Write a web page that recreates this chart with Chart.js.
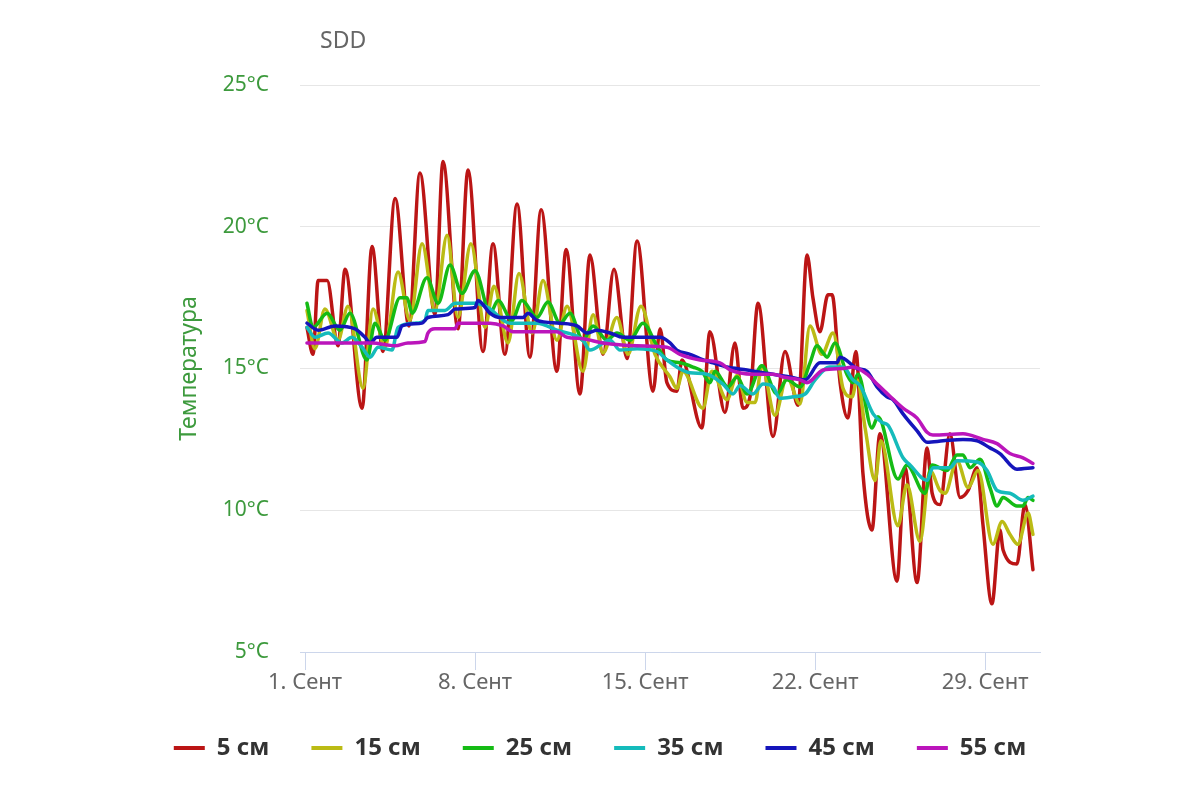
<!DOCTYPE html>
<html><head><meta charset="utf-8">
<script src="https://cdn.jsdelivr.net/npm/chart.js@4"></script>
<style>html,body{margin:0;padding:0;background:#fff}</style>
</head><body>
<canvas id="c" width="1200" height="800"></canvas>
<script>
// time in days since 1 Sep 00:00, temperature in °C
const seriesNames = ['5 см','15 см','25 см','35 см','45 см','55 см'];
const tickDays = [0, 7, 14, 21, 28];
const tickLabels = ['1. Сент','8. Сент','15. Сент','22. Сент','29. Сент'];
const yTicks = [5, 10, 15, 20, 25];

const t5 = [0.08,0.33,0.54,0.91,1.36,1.65,2.35,2.76,3.21,3.71,4.28,4.73,5.35,5.68,6.30,6.71,7.33,7.74,8.23,8.73,9.26,9.72,10.37,10.75,11.32,11.73,12.27,12.72,13.26,13.67,14.33,14.62,14.90,15.31,15.52,16.34,16.67,17.29,17.70,18.03,18.32,18.65,19.27,19.76,20.30,20.67,20.91,21.20,21.53,21.70,22.03,22.35,22.68,22.97,23.34,23.67,24.37,24.70,25.20,25.61,25.82,26.14,26.55,26.97,27.30,27.67,27.91,28.28,28.61,28.74,29.31,29.64,29.97];
const v5 = [16.45,15.5,18.1,18.1,15.8,18.5,13.6,19.3,15.6,21.0,16.5,21.9,16.9,22.3,16.4,22.0,15.6,19.4,15.5,20.8,15.4,20.6,14.9,19.2,14.1,19.0,15.5,18.5,15.35,19.5,14.2,16.4,14.5,14.2,15.3,12.9,16.3,13.45,15.9,13.6,14.0,17.3,12.6,15.6,13.7,19.0,17.5,16.3,17.6,17.6,14.5,13.25,15.6,11.3,9.3,12.7,7.5,11.5,7.45,12.2,10.6,10.2,12.7,10.45,10.7,11.5,9.5,6.7,9.3,8.6,8.1,10.2,7.9];

const t15 = [0.08,0.41,0.82,1.36,1.77,2.39,2.80,3.29,3.83,4.32,4.82,5.35,5.85,6.30,6.83,7.41,7.78,8.36,8.81,9.35,9.80,10.37,10.79,11.44,11.86,12.27,12.84,13.30,13.83,14.41,15.03,15.31,15.56,16.38,16.75,17.37,17.79,18.20,18.53,18.81,19.35,19.84,20.38,20.79,21.28,21.74,22.15,22.52,22.73,23.06,23.47,23.71,24.41,24.78,25.32,25.73,26.14,26.35,26.84,27.30,27.71,28.32,28.70,29.02,29.35,29.77,29.97];
const v15 = [17.05,15.7,17.1,16.0,17.2,14.3,17.1,15.75,18.4,16.7,19.4,17.05,19.7,16.8,19.4,16.45,17.9,15.9,18.35,16.25,18.1,16.0,17.2,14.9,16.9,15.55,16.8,15.5,17.2,15.5,14.7,14.3,14.9,13.6,14.9,13.9,14.75,13.8,13.8,15.1,13.35,14.7,13.75,16.5,15.5,16.25,14.3,14.0,14.6,12.9,11.05,12.45,9.45,10.9,8.9,11.4,10.7,10.6,11.75,10.8,11.4,8.8,9.6,9.15,8.8,9.9,9.15];

const t25 = [0.08,0.33,0.91,1.44,1.85,2.55,2.88,3.29,3.91,4.20,4.41,5.02,5.48,5.97,6.46,7.00,7.62,7.95,8.52,8.93,9.55,10.00,10.50,10.91,11.44,11.86,12.43,12.84,13.38,13.91,14.49,14.90,15.44,15.97,16.34,16.67,16.88,17.41,17.79,18.20,18.81,19.43,19.84,20.38,20.79,21.08,21.33,21.49,21.82,22.31,22.56,22.77,23.34,23.59,24.41,24.78,25.52,25.82,26.43,26.84,27.09,27.38,27.79,28.20,28.49,28.74,29.31,29.56,29.77,29.97];
const v25 = [17.3,16.45,16.95,16.35,16.95,15.3,16.6,16.0,17.5,17.5,16.95,18.2,17.3,18.65,17.65,18.45,16.95,17.4,16.7,17.4,16.8,17.35,16.6,16.95,16.0,16.5,16.0,16.25,16.0,16.6,15.8,15.3,15.2,15.05,14.9,14.5,14.9,14.35,14.7,14.1,15.1,14.1,14.6,14.35,15.2,15.8,15.55,15.4,15.9,14.8,14.5,14.8,12.9,13.3,11.1,11.6,10.6,11.6,11.4,11.95,11.95,11.5,11.8,10.8,10.15,10.45,10.15,10.15,10.45,10.35];

const t35 = [0.08,0.41,0.95,1.52,1.93,2.35,2.68,3.01,3.58,3.83,4.53,4.94,5.06,5.76,6.18,7.00,7.53,8.44,9.55,10.37,11.44,11.73,12.56,12.97,13.67,14.49,14.90,15.31,15.85,16.55,17.21,17.62,17.91,18.44,18.86,19.27,19.55,20.09,20.59,21.00,21.61,22.15,22.56,22.85,23.39,23.75,24.00,24.62,24.91,25.61,25.85,26.55,26.84,27.67,28.08,28.49,29.02,29.56,29.97];
const v35 = [16.45,16.1,16.25,15.9,16.1,15.75,15.4,15.75,15.65,16.45,16.6,16.7,17.05,17.05,17.3,17.3,17.15,16.6,16.6,16.35,16.0,15.65,16.0,15.65,15.7,15.6,15.3,15.05,14.85,14.8,14.45,14.1,14.4,14.1,14.45,14.35,13.95,14.0,14.1,14.6,15.05,15.05,14.6,14.4,13.4,13.1,13.0,11.85,11.6,11.05,11.5,11.5,11.75,11.7,11.4,10.7,10.6,10.35,10.5];

const t45 = [0.08,0.54,1.24,2.06,2.47,2.68,2.96,3.79,3.99,4.82,5.06,5.89,6.18,7.00,7.12,7.62,8.03,8.98,9.18,9.55,10.50,11.20,11.61,12.02,12.56,13.09,14.62,15.03,15.31,15.85,16.26,16.80,17.37,18.20,18.86,19.97,20.59,21.20,21.90,22.03,22.73,23.14,23.55,23.96,24.21,24.62,25.20,25.61,26.27,27.09,27.67,28.20,28.61,29.31,29.97];
const v45 = [16.6,16.35,16.5,16.4,16.1,15.9,16.1,16.1,16.5,16.6,16.8,16.9,17.1,17.15,17.4,16.95,16.8,16.8,16.95,16.7,16.6,16.5,16.25,16.35,16.25,16.1,16.1,15.9,15.65,15.5,15.35,15.2,15.05,14.95,14.85,14.7,14.6,15.2,15.2,15.4,15.0,14.9,14.35,14.0,13.9,13.4,12.8,12.4,12.45,12.5,12.45,12.2,12.0,11.45,11.5];

const t55 = [0.08,2.76,3.71,4.24,4.94,5.06,5.35,6.18,6.30,7.62,8.15,8.56,10.37,10.79,11.44,12.27,13.67,14.90,15.44,16.26,17.08,17.50,18.44,19.27,19.68,20.38,20.67,21.33,22.15,22.56,23.14,23.55,24.05,24.62,25.20,25.61,25.85,27.09,27.91,28.49,29.02,29.56,29.97];
const v55 = [15.9,15.9,15.8,15.9,15.95,16.25,16.4,16.4,16.6,16.6,16.5,16.3,16.3,16.1,16.05,15.9,15.8,15.75,15.5,15.3,15.2,14.95,14.8,14.8,14.7,14.6,14.5,14.95,15.0,15.05,14.8,14.45,14.05,13.6,13.25,12.75,12.65,12.7,12.5,12.35,12.0,11.85,11.65];

const colors = ['#bb1515','#bbbb15','#15bb15','#15bbbb','#1515bb','#bb15bb'];
const times = [t5, t15, t25, t35, t45, t55];
const values = [v5, v15, v25, v35, v45, v55];

const GREEN = '#3d9a3d';
const FONT = "'Noto Sans', 'DejaVu Sans', sans-serif";

const datasets = seriesNames.map((name, i) => ({
  label: name,
  data: times[i].map((t, j) => ({x: t, y: values[i][j]})),
  borderColor: colors[i],
  backgroundColor: colors[i],
  borderWidth: 3.5,
  pointRadius: 0,
  borderCapStyle: 'round',
  borderJoinStyle: 'round',
  cubicInterpolationMode: 'monotone',
  order: seriesNames.length - i
}));

const titlePlugin = {
  id: 'sddTitle',
  afterDraw(chart) {
    const ctx = chart.ctx;
    ctx.save();
    ctx.font = "23px " + FONT;
    ctx.fillStyle = '#666666';
    ctx.textBaseline = 'alphabetic';
    ctx.textAlign = 'left';
    ctx.fillText('SDD', 320, 48);
    ctx.restore();
  }
};

new Chart(document.getElementById('c'), {
  type: 'line',
  data: {datasets},
  options: {
    responsive: false,
    animation: false,
    layout: {padding: {top: 85, left: 0, right: 0, bottom: 30}},
    plugins: {
      tooltip: {enabled: false},
      legend: {
        position: 'bottom',
        labels: {
          boxWidth: 31,
          boxHeight: 4,
          padding: 42,
          color: '#333333',
          font: {family: FONT, size: 24, weight: 'bold'},
          generateLabels(chart) {
            const items = Chart.defaults.plugins.legend.labels.generateLabels(chart);
            items.forEach(it => { it.lineWidth = 0; it.fillStyle = it.strokeStyle; });
            return items.sort((a, b) => a.datasetIndex - b.datasetIndex);
          }
        }
      }
    },
    scales: {
      x: {
        type: 'linear',
        min: -0.206,
        max: 30.26,
        afterBuildTicks(scale) { scale.ticks = tickDays.map(v => ({value: v})); },
        afterFit(scale) { scale.height = 42; },
        ticks: {
          autoSkip: false,
          maxRotation: 0,
          padding: 0,
          color: '#666666',
          font: {family: FONT, size: 22},
          callback(value) { const k = tickDays.indexOf(value); return k >= 0 ? tickLabels[k] : ''; }
        },
        grid: {drawOnChartArea: false, drawTicks: true, tickLength: 18, color: '#ccd6eb'},
        border: {color: '#ccd6eb', width: 1}
      },
      y: {
        min: 5,
        max: 25,
        afterBuildTicks(scale) { scale.ticks = yTicks.map(v => ({value: v})); },
        afterFit(scale) { scale.width = 300; },
        ticks: {
          padding: 31,
          color: GREEN,
          font: {family: FONT, size: 21},
          callback(value) { return value + '°C'; }
        },
        grid: {color: '#e6e6e6', drawTicks: false, lineWidth: 1},
        border: {display: false},
        title: {
          display: true,
          text: 'Температура',
          color: GREEN,
          font: {family: FONT, size: 23},
          padding: {top: 176, bottom: 0}
        }
      },
      rightSpace: {
        type: 'linear',
        position: 'right',
        display: true,
        afterFit(scale) { scale.width = 160; },
        ticks: {display: false},
        grid: {display: false, drawTicks: false},
        border: {display: false}
      }
    }
  },
  plugins: [titlePlugin]
});
</script>
</body></html>
